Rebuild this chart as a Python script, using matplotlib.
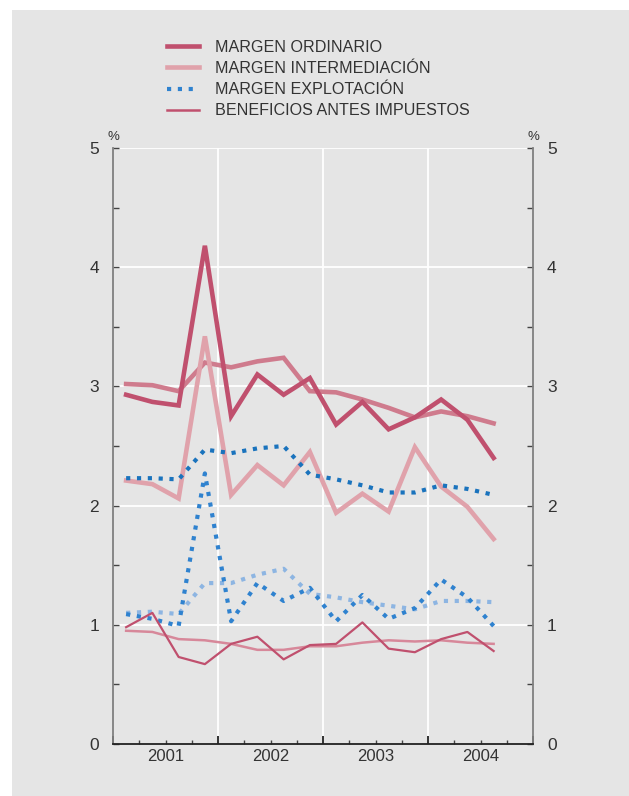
import matplotlib
matplotlib.use('Agg')
import matplotlib.pyplot as plt
from matplotlib.lines import Line2D
from matplotlib.patches import Rectangle
import numpy as np

plt.rcParams['font.family'] = ['Liberation Sans', 'DejaVu Sans']

# quarterly data, 2001Q1 - 2004Q3
years = [2001, 2002, 2003, 2004]
n_quarters = 15

ordinario = [2.93, 2.87, 2.84, 4.18, 2.75, 3.10, 2.93, 3.07, 2.68, 2.87, 2.64, 2.74, 2.89, 2.72, 2.40]
ordinario_suav = [3.02, 3.01, 2.96, 3.20, 3.16, 3.21, 3.24, 2.96, 2.95, 2.89, 2.82, 2.74, 2.79, 2.75, 2.69]

intermed = [2.21, 2.18, 2.06, 3.42, 2.09, 2.34, 2.17, 2.45, 1.94, 2.10, 1.95, 2.49, 2.16, 1.99, 1.72]

explot = [1.09, 1.05, 0.99, 2.27, 1.03, 1.35, 1.20, 1.31, 1.03, 1.25, 1.05, 1.14, 1.38, 1.23, 0.99]
explot_suav = [2.23, 2.23, 2.22, 2.47, 2.44, 2.48, 2.50, 2.26, 2.22, 2.17, 2.11, 2.11, 2.17, 2.14, 2.09]
explot_claro = [1.10, 1.11, 1.09, 1.35, 1.35, 1.42, 1.47, 1.26, 1.23, 1.19, 1.16, 1.13, 1.20, 1.20, 1.19]

beneficios = [0.98, 1.10, 0.73, 0.67, 0.84, 0.90, 0.71, 0.83, 0.84, 1.02, 0.80, 0.77, 0.88, 0.94, 0.78]
beneficios_suav = [0.95, 0.94, 0.88, 0.87, 0.84, 0.79, 0.79, 0.82, 0.82, 0.85, 0.87, 0.86, 0.87, 0.85, 0.84]

x = 2001 + (np.arange(n_quarters) + 0.5) / 4

bg = '#e5e5e5'
txt = '#333333'
c_ord = '#c0506e'
c_ord2 = '#cf7b8d'
c_int = '#e0a2ab'
c_blue = '#1a73bd'
c_blue2 = '#2f82cf'
c_blue3 = '#8db5e2'
c_ben2 = '#d7889a'

fig = plt.figure(figsize=(6.29, 7.96), dpi=100)
fig.patch.set_facecolor('white')
fig.patches.append(Rectangle((12 / 629, 0), 1, 1 - 10 / 796, transform=fig.transFigure,
                             facecolor=bg, edgecolor='none', zorder=-10))

ax = fig.add_axes([113 / 629, 52 / 796, 420 / 629, 596 / 796])
ax.set_facecolor(bg)

dots = (0, (1, 1.6))
ax.plot(x, ordinario_suav, color=c_ord2, lw=3.3, solid_joinstyle='miter', zorder=3)
ax.plot(x, ordinario, color=c_ord, lw=3.3, solid_joinstyle='miter', zorder=4)
ax.plot(x, intermed, color=c_int, lw=3.3, solid_joinstyle='miter', zorder=3)
ax.plot(x, explot_claro, color=c_blue3, lw=3.0, ls=dots, dash_capstyle='butt', zorder=3)
ax.plot(x, explot, color=c_blue2, lw=3.0, ls=dots, dash_capstyle='butt', zorder=3)
ax.plot(x, explot_suav, color=c_blue, lw=3.0, ls=dots, dash_capstyle='butt', zorder=3)
ax.plot(x, beneficios_suav, color=c_ben2, lw=1.8, zorder=3)
ax.plot(x, beneficios, color=c_ord, lw=1.6, zorder=4)

ax.set_xlim(2001, 2005)
ax.set_ylim(0, 5)

for y in [1, 2, 3, 4, 5]:
    ax.axhline(y, color='white', lw=1.3, zorder=1)
for yr in [2002, 2003, 2004]:
    ax.axvline(yr, color='white', lw=1.3, zorder=1)

ax.spines['top'].set_visible(False)
ax.spines['left'].set_color('#808080')
ax.spines['right'].set_color('#808080')
ax.spines['left'].set_linewidth(1.3)
ax.spines['right'].set_linewidth(1.3)
ax.spines['bottom'].set_color('#222222')
ax.spines['bottom'].set_linewidth(1.3)

ax.set_yticks([0, 1, 2, 3, 4, 5])
ax.set_yticks(np.arange(0.5, 5, 1), minor=True)
ax.tick_params(axis='y', which='both', direction='in', length=4, width=1, colors='#444444',
               labelcolor=txt, labelsize=12.5, left=True, right=True, labelleft=True, labelright=True)
ax.tick_params(axis='y', which='major', pad=10)

ax.set_xticks(years + [2005])
ax.set_xticks(np.arange(2001, 2005.01, 0.25), minor=True)
ax.set_xticklabels([])
ax.tick_params(axis='x', which='major', direction='in', length=6, width=1.3, colors='#222222')
ax.tick_params(axis='x', which='minor', direction='in', length=3, width=1, colors='#444444')
for yr in years:
    ax.text(yr + 0.5, -0.021, str(yr), transform=ax.get_xaxis_transform(),
            ha='center', va='center', fontsize=12, color=txt)

ax.text(0, 1.019, '%', transform=ax.transAxes, ha='center', va='center', fontsize=9.5, color=txt)
ax.text(1, 1.019, '%', transform=ax.transAxes, ha='center', va='center', fontsize=9.5, color=txt)

handles = [
    Line2D([], [], color=c_ord, lw=3.3),
    Line2D([], [], color=c_int, lw=3.3),
    Line2D([], [], color=c_blue2, lw=3.0, ls=dots, dash_capstyle='butt'),
    Line2D([], [], color=c_ord, lw=1.8),
]
labels = ['MARGEN ORDINARIO', 'MARGEN INTERMEDIACIÓN', 'MARGEN EXPLOTACIÓN',
          'BENEFICIOS ANTES IMPUESTOS']
leg = fig.legend(handles, labels, loc='upper left', bbox_to_anchor=(167 / 629, 1 - 40 / 796),
                 frameon=False, fontsize=11.6, handlelength=2.0, handletextpad=1.0,
                 labelspacing=0.38, borderpad=0, borderaxespad=0)
for t in leg.get_texts():
    t.set_color(txt)

fig.savefig('out.png', dpi=100, facecolor=fig.get_facecolor())
